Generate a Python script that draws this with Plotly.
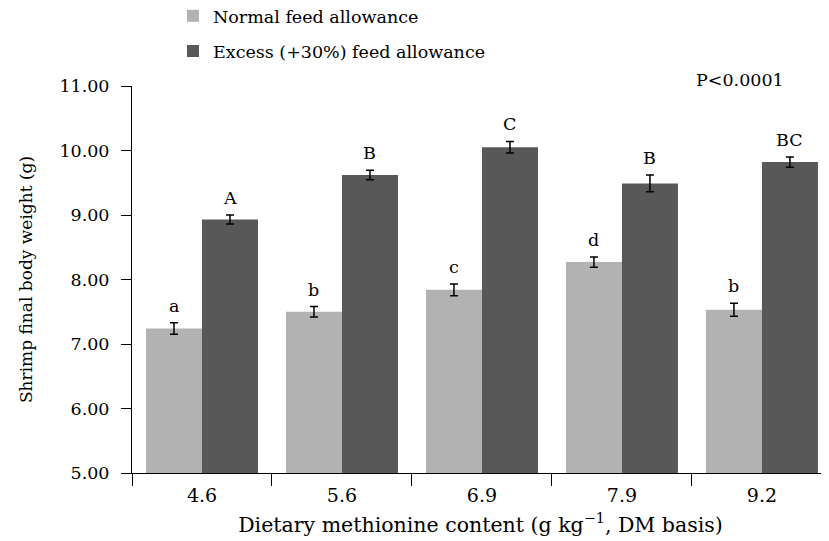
import plotly.graph_objects as go

categories = ["4.6", "5.6", "6.9", "7.9", "9.2"]
normal_vals = [7.24, 7.50, 7.84, 8.27, 7.53]
normal_err = [0.09, 0.08, 0.09, 0.08, 0.10]
excess_vals = [8.93, 9.62, 10.05, 9.49, 9.82]
excess_err = [0.07, 0.075, 0.09, 0.13, 0.08]
normal_letters = ["a", "b", "c", "d", "b"]
excess_letters = ["A", "B", "C", "B", "BC"]
y_ticks = [5, 6, 7, 8, 9, 10, 11]

FONT = "DejaVu Serif"
FS = 17.5
LIGHT = "#b2b2b2"
DARK = "#585858"

fig = go.Figure()
fig.add_trace(go.Bar(
    x=categories, y=normal_vals, name="Normal feed allowance",
    marker=dict(color=LIGHT, line=dict(width=0)),
    error_y=dict(type="data", array=normal_err, color="black", thickness=1.5, width=4),
    legend="legend",
))
fig.add_trace(go.Bar(
    x=categories, y=excess_vals, name="Excess (+30%) feed allowance",
    marker=dict(color=DARK, line=dict(width=0)),
    error_y=dict(type="data", array=excess_err, color="black", thickness=1.5, width=4),
    legend="legend2",
))

annotations = []
for i, (v, e, t) in enumerate(zip(normal_vals, normal_err, normal_letters)):
    annotations.append(dict(x=i - 0.2, y=v + e, xref="x", yref="y", text=t,
                            showarrow=False, yanchor="bottom", yshift=5,
                            font=dict(family=FONT, size=FS, color="black")))
for i, (v, e, t) in enumerate(zip(excess_vals, excess_err, excess_letters)):
    annotations.append(dict(x=i + 0.2, y=v + e, xref="x", yref="y", text=t,
                            showarrow=False, yanchor="bottom", yshift=5,
                            font=dict(family=FONT, size=FS, color="black")))
annotations.append(dict(x=0.872, y=1.016, xref="paper", yref="paper", text="P<0.0001",
                        showarrow=False, xanchor="center", yanchor="middle",
                        font=dict(family=FONT, size=FS, color="black")))

fig.update_layout(
    width=829, height=541,
    margin=dict(l=124, r=8, t=78, b=76, autoexpand=False),
    paper_bgcolor="white", plot_bgcolor="white",
    barmode="group", bargap=0.2, bargroupgap=0,
    font=dict(family=FONT, size=FS, color="black"),
    annotations=annotations,
    legend=dict(x=0.0588, y=1.2275, xanchor="left", yanchor="top",
                font=dict(family=FONT, size=FS), bgcolor="rgba(0,0,0,0)"),
    legend2=dict(x=0.0588, y=1.1365, xanchor="left", yanchor="top",
                 font=dict(family=FONT, size=FS), bgcolor="rgba(0,0,0,0)"),
    showlegend=True,
)
fig.update_xaxes(
    type="category", range=[-0.5, 4.479],
    showline=True, linecolor="black", linewidth=1,
    ticks="outside", tickson="boundaries", ticklen=12, tickcolor="black", tickwidth=1,
    ticklabelstandoff=5,
    showgrid=False, zeroline=False,
    tickfont=dict(family=FONT, size=19),
    title=dict(text="Dietary methionine content (g kg<sup>\u22121</sup>, DM basis)",
               font=dict(family=FONT, size=20.5), standoff=12),
)
fig.update_yaxes(
    range=[5, 11], tickvals=y_ticks, tickformat=".2f",
    showline=True, linecolor="black", linewidth=1,
    ticks="outside", ticklen=10, tickcolor="black", tickwidth=1,
    ticklabelstandoff=8,
    showgrid=False, zeroline=False,
    tickfont=dict(family=FONT, size=FS),
    title=dict(text="Shrimp final body weight (g)", font=dict(family=FONT, size=17), standoff=22),
)

fig.write_html("out.html")
